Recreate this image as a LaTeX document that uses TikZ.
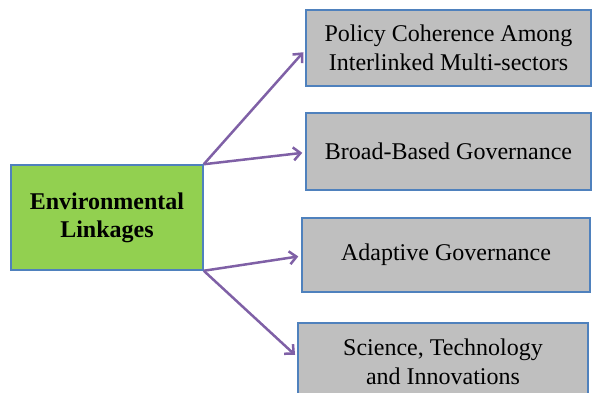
\documentclass[tikz,border=0pt]{standalone}
\usepackage{fontspec}
\setmainfont{Liberation Serif}
\usetikzlibrary{arrows.meta}
\definecolor{boxblue}{HTML}{4F81BD}
\definecolor{leafgreen}{HTML}{92D050}
\definecolor{boxgray}{HTML}{BFBFBF}
\definecolor{arrowpurple}{HTML}{7F60A6}
\begin{document}
\begin{tikzpicture}[x=1pt,y=1pt,
  boxstyle/.style={draw=boxblue, line width=1.5pt, fill=boxgray, align=center,
    inner sep=0pt, font=\fontsize{24}{28.5}\selectfont, text=black},
  rootstyle/.style={draw=boxblue, line width=1.5pt, fill=leafgreen, align=center,
    inner sep=0pt, font=\fontsize{24}{28}\selectfont\bfseries, text=black},
  linkarrow/.style={draw=arrowpurple, line width=2.5pt,
    -{Straight Barb[length=7pt,width=13pt,line width=2.5pt]}, shorten >=3pt}]
\useasboundingbox (0,0) rectangle (592,392);
% root box: x 11..203, y(px) 165..270
\node[rootstyle, minimum width=192pt, minimum height=105pt] (root) at (107,174.5)
  {Environmental\\Linkages};
% box 1: x 306..591, y(px) 10..86
\node[boxstyle, minimum width=285pt, minimum height=76pt] (b1) at (448.5,344)
  {Policy Coherence Among\\Interlinked Multi-sectors};
% box 2: x 306..591, y(px) 113..190
\node[boxstyle, minimum width=285pt, minimum height=77pt] (b2) at (448.5,240.5)
  {Broad-Based Governance};
% box 3: x 302..590, y(px) 218..292
\node[boxstyle, minimum width=288pt, minimum height=74pt] (b3) at (446,137)
  {Adaptive Governance};
% box 4: x 298..588, y(px) 323..(below edge)
\node[boxstyle, minimum width=290pt, minimum height=78pt] (b4) at (443,30)
  {Science, Technology\\and Innovations};
\draw[linkarrow] (root.north east) -- ([yshift=-2pt]b1.west);
\draw[linkarrow] (root.north east) -- ([yshift=-1pt]b2.west);
\draw[linkarrow] (root.south east) -- ([yshift=-1pt]b3.west);
\draw[linkarrow] (root.south east) -- ([yshift=5pt]b4.west);
\end{tikzpicture}
\end{document}
